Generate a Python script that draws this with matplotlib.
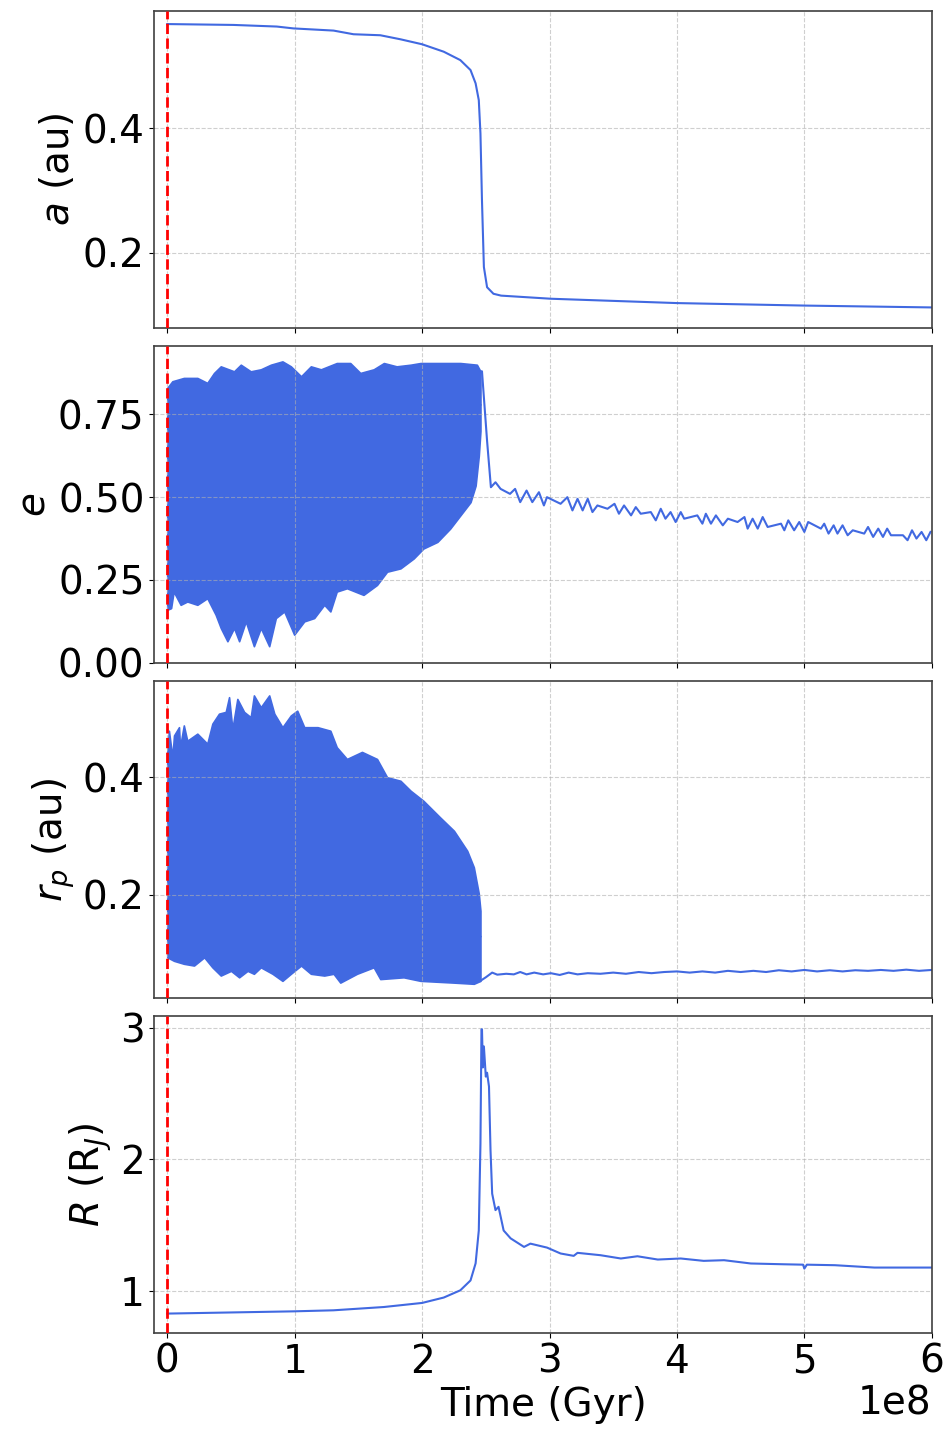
"""Orbital evolution: a, e, r_p and R versus time."""

import matplotlib
matplotlib.use("Agg")
import matplotlib.pyplot as plt
import numpy as np

# time in units of 1e8 yr
A_T = [0.0, 0.52, 0.86, 0.99, 1.305, 1.462, 1.672, 1.83, 2.0, 2.17, 2.30, 2.38,
       2.42, 2.445, 2.458, 2.47, 2.485, 2.51, 2.56, 2.62, 3.01, 4.0, 5.0, 6.0]
A_VAL = [0.568, 0.5666, 0.564, 0.561, 0.5575, 0.5516, 0.55, 0.5435, 0.5355, 0.5235,
         0.51, 0.494, 0.4726, 0.4456, 0.392, 0.284, 0.177, 0.1445, 0.134, 0.131,
         0.126, 0.119, 0.115, 0.112]

E_UP_T = [0.0, 0.04, 0.13, 0.236, 0.314, 0.367, 0.42, 0.524, 0.577, 0.655, 0.734,
          0.813, 0.904, 0.97, 1.05, 1.127, 1.206, 1.33, 1.436, 1.515, 1.62, 1.70,
          1.80, 1.91, 1.987, 2.12, 2.30, 2.43, 2.458]
E_UP = [0.83, 0.85, 0.86, 0.86, 0.845, 0.875, 0.895, 0.88, 0.90, 0.88, 0.886,
        0.90, 0.91, 0.895, 0.865, 0.895, 0.886, 0.905, 0.905, 0.875, 0.886, 0.905,
        0.895, 0.90, 0.905, 0.905, 0.905, 0.90, 0.88]
E_LO_T = [0.0, 0.03, 0.05, 0.105, 0.157, 0.236, 0.314, 0.38, 0.42, 0.472, 0.524,
          0.564, 0.616, 0.68, 0.734, 0.80, 0.852, 0.918, 0.996, 1.075, 1.153, 1.232,
          1.28, 1.33, 1.41, 1.54, 1.646, 1.725, 1.83, 1.934, 2.01, 2.12, 2.22, 2.30,
          2.38, 2.42, 2.445, 2.458]
E_LO = [0.16, 0.165, 0.215, 0.175, 0.185, 0.175, 0.195, 0.145, 0.105, 0.065, 0.105,
        0.065, 0.125, 0.05, 0.105, 0.05, 0.135, 0.155, 0.085, 0.125, 0.135, 0.175,
        0.155, 0.215, 0.225, 0.205, 0.235, 0.275, 0.285, 0.315, 0.345, 0.365, 0.405,
        0.445, 0.485, 0.535, 0.625, 0.70]
E_TAIL_T = [2.458, 2.47, 2.51, 2.54, 2.576, 2.616, 2.69, 2.73, 2.77, 2.82, 2.865,
            2.917, 2.956, 2.98, 3.087, 3.14, 3.18, 3.22, 3.26, 3.30, 3.337, 3.376,
            3.455, 3.51, 3.545, 3.585, 3.64, 3.677, 3.716, 3.795, 3.834, 3.873, 3.91,
            3.95, 3.99, 4.03, 4.057, 4.16, 4.20, 4.227, 4.267, 4.306, 4.36, 4.40,
            4.476, 4.53, 4.555, 4.594, 4.634, 4.673, 4.712, 4.817, 4.843, 4.874,
            4.92, 4.96, 5.0, 5.03, 5.13, 5.156, 5.19, 5.23, 5.26, 5.30, 5.34, 5.38,
            5.47, 5.50, 5.54, 5.58, 5.617, 5.65, 5.68, 5.774, 5.81, 5.845, 5.88,
            5.92, 5.957, 5.99]
E_TAIL = [0.88, 0.88, 0.67, 0.53, 0.545, 0.525, 0.51, 0.525, 0.485, 0.52, 0.485,
          0.515, 0.475, 0.50, 0.48, 0.50, 0.46, 0.495, 0.46, 0.495, 0.455, 0.475,
          0.465, 0.48, 0.45, 0.475, 0.445, 0.47, 0.45, 0.455, 0.43, 0.465, 0.435,
          0.455, 0.425, 0.455, 0.435, 0.445, 0.42, 0.45, 0.42, 0.445, 0.415, 0.435,
          0.425, 0.44, 0.405, 0.435, 0.405, 0.44, 0.41, 0.42, 0.40, 0.43, 0.40,
          0.425, 0.395, 0.425, 0.405, 0.42, 0.39, 0.415, 0.39, 0.415, 0.385, 0.40,
          0.39, 0.41, 0.38, 0.405, 0.38, 0.405, 0.385, 0.385, 0.37, 0.40, 0.375,
          0.395, 0.37, 0.395]

RP_UP_T = [0.0, 0.013, 0.04, 0.053, 0.092, 0.10, 0.13, 0.157, 0.236, 0.314, 0.354,
           0.406, 0.459, 0.485, 0.511, 0.55, 0.603, 0.655, 0.68, 0.734, 0.80, 0.84,
           0.904, 0.97, 1.02, 1.075, 1.18, 1.28, 1.33, 1.41, 1.528, 1.646, 1.725,
           1.83, 1.91, 2.01, 2.14, 2.25, 2.354, 2.406, 2.445, 2.458]
RP_UP = [0.44, 0.479, 0.434, 0.471, 0.485, 0.451, 0.488, 0.462, 0.474, 0.457, 0.491,
         0.508, 0.511, 0.536, 0.482, 0.533, 0.511, 0.502, 0.539, 0.519, 0.539, 0.508,
         0.485, 0.505, 0.513, 0.485, 0.485, 0.479, 0.451, 0.431, 0.443, 0.431, 0.40,
         0.394, 0.377, 0.36, 0.332, 0.309, 0.275, 0.247, 0.202, 0.173]
RP_LO_T = [0.0, 0.053, 0.13, 0.21, 0.29, 0.354, 0.42, 0.50, 0.564, 0.63, 0.68, 0.734,
           0.826, 0.904, 0.97, 1.05, 1.127, 1.232, 1.305, 1.358, 1.489, 1.62, 1.672,
           1.855, 1.987, 2.25, 2.406, 2.458]
RP_LO = [0.094, 0.088, 0.083, 0.08, 0.094, 0.077, 0.063, 0.071, 0.06, 0.071, 0.066,
         0.077, 0.066, 0.054, 0.066, 0.08, 0.066, 0.063, 0.066, 0.051, 0.066, 0.077,
         0.057, 0.06, 0.054, 0.051, 0.049, 0.054]
RP_TAIL_T = [2.458, 2.50, 2.55, 2.59, 2.66, 2.72, 2.77, 2.82, 2.88, 2.95, 3.01, 3.08,
             3.15, 3.22, 3.30, 3.40, 3.50, 3.60, 3.70, 3.80, 3.90, 4.00, 4.10, 4.20,
             4.30, 4.40, 4.50, 4.60, 4.70, 4.80, 4.90, 5.00, 5.10, 5.20, 5.30, 5.40,
             5.50, 5.60, 5.70, 5.80, 5.90, 6.00]
RP_TAIL = [0.054, 0.060, 0.068, 0.0645, 0.066, 0.065, 0.069, 0.065, 0.068, 0.065,
           0.067, 0.064, 0.068, 0.065, 0.067, 0.066, 0.068, 0.066, 0.069, 0.067,
           0.069, 0.070, 0.068, 0.070, 0.068, 0.071, 0.069, 0.071, 0.069, 0.072,
           0.070, 0.0725, 0.070, 0.072, 0.070, 0.072, 0.071, 0.0725, 0.071, 0.073,
           0.071, 0.0725]

R_T = [0.0, 0.99, 1.305, 1.70, 2.0, 2.17, 2.30, 2.38, 2.42, 2.445, 2.458, 2.466,
       2.47, 2.477, 2.485, 2.50, 2.51, 2.525, 2.537, 2.55, 2.576, 2.60, 2.64, 2.695,
       2.80, 2.85, 2.98, 3.087, 3.19, 3.22, 3.40, 3.56, 3.69, 3.85, 4.03, 4.21,
       4.37, 4.58, 4.84, 4.99, 5.0, 5.02, 5.24, 5.55, 6.0]
R_VAL = [0.828, 0.845, 0.853, 0.878, 0.909, 0.95, 1.005, 1.08, 1.21, 1.46, 2.12,
         2.99, 2.99, 2.70, 2.86, 2.63, 2.66, 2.555, 2.07, 1.74, 1.615, 1.64, 1.46,
         1.40, 1.335, 1.36, 1.33, 1.285, 1.267, 1.29, 1.272, 1.247, 1.264, 1.239,
         1.247, 1.229, 1.234, 1.209, 1.203, 1.20, 1.17, 1.20, 1.196, 1.178, 1.178]

LINE = "royalblue"
SCALE = 1e8
FS = 28


def yr(t):
    return np.asarray(t) * SCALE


def band(ax, t_up, up, t_lo, lo, mid):
    # oscillation too dense to resolve: fill between its upper and lower envelopes
    ax.fill_between(yr(t_up), up, mid, color=LINE, lw=1.2, edgecolor=LINE)
    ax.fill_between(yr(t_lo), lo, mid, color=LINE, lw=1.2, edgecolor=LINE)


fig, axes = plt.subplots(4, 1, figsize=(9.47, 14.3), dpi=100, sharex=True)
fig.subplots_adjust(left=0.1629, right=0.9839, top=0.9923, bottom=0.0678, hspace=0.0585)
ax_a, ax_e, ax_rp, ax_r = axes

ax_a.plot(yr(A_T), A_VAL, color=LINE, lw=1.5)
ax_a.set_ylim(0.0795, 0.589)
ax_a.set_yticks([0.2, 0.4])
ax_a.set_ylabel("$a$ (au)", fontsize=FS)

band(ax_e, E_UP_T, E_UP, E_LO_T, E_LO, 0.78)
ax_e.plot(yr(E_TAIL_T), E_TAIL, color=LINE, lw=1.5)
ax_e.set_ylim(0.0, 0.956)
ax_e.set_yticks([0.0, 0.25, 0.5, 0.75])
ax_e.set_ylabel("$e$", fontsize=FS)

band(ax_rp, RP_UP_T, RP_UP, RP_LO_T, RP_LO, 0.13)
ax_rp.plot(yr(RP_TAIL_T), RP_TAIL, color=LINE, lw=1.5)
ax_rp.set_ylim(0.025, 0.563)
ax_rp.set_yticks([0.2, 0.4])
ax_rp.set_ylabel("$r_p$ (au)", fontsize=FS)

ax_r.plot(yr(R_T), R_VAL, color=LINE, lw=1.5)
ax_r.set_ylim(0.68, 3.088)
ax_r.set_yticks([1, 2, 3])
ax_r.set_ylabel("$R$ (R$_J$)", fontsize=FS)
ax_r.set_xlabel("Time (Gyr)", fontsize=FS, labelpad=4)
ax_r.set_xlim(-0.102 * SCALE, 6.0 * SCALE)
ax_r.set_xticks(yr([0, 1, 2, 3, 4, 5, 6]))
ax_r.xaxis.get_offset_text().set_fontsize(FS)

for ax in axes:
    ax.axvline(0, color="red", linestyle="--", lw=2, zorder=5)
    ax.grid(True, linestyle="--", alpha=0.6)
    ax.tick_params(labelsize=FS)
    for sp in ax.spines.values():
        sp.set_edgecolor("0.25")
        sp.set_linewidth(1.2)

fig.savefig("out.png", dpi=100)
plt.close(fig)
